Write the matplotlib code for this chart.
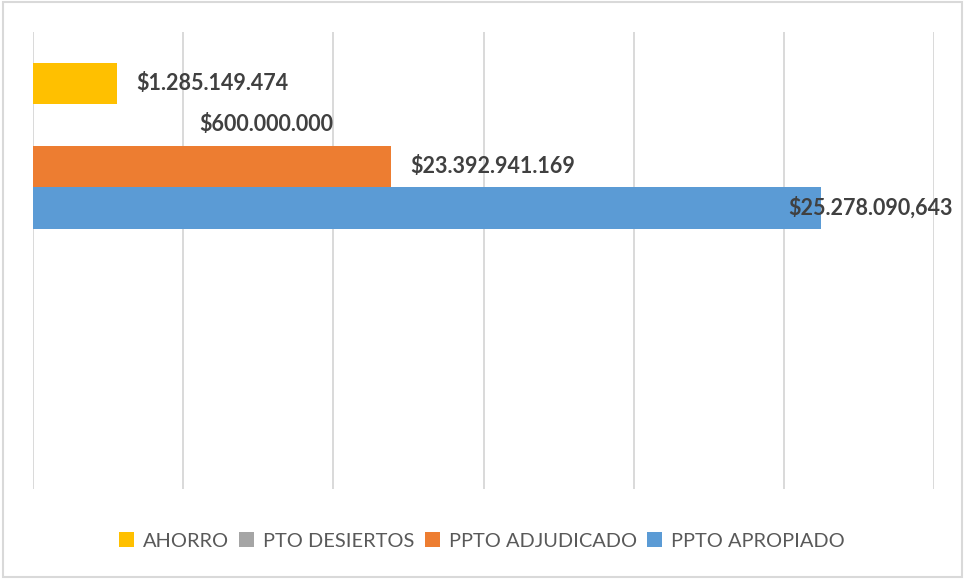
import matplotlib.pyplot as plt
from matplotlib.patches import Rectangle, Patch

# Series (one category, Excel-style clustered horizontal bars)
series = ['AHORRO', 'PTO DESIERTOS', 'PPTO ADJUDICADO', 'PPTO APROPIADO']
colors = ['#FFC000', '#A5A5A5', '#ED7D31', '#5B9BD5']
# bar lengths as read against the (unlabelled) gridlines, 5 units per gridline
bar_len = [2.80, 0.0, 11.93, 26.23]
# data labels as printed on the chart
labels = ['$1.285.149.474', '$600.000.000', '$23.392.941.169', '$25.278.090,643']
label_x = [3.43, 5.53, 12.55, 25.15]

plt.rcParams['font.family'] = ['Lato', 'DejaVu Sans']

W, H = 964, 579
fig = plt.figure(figsize=(W / 100, H / 100), dpi=100)
ax = fig.add_axes([33 / W, 1 - 489 / H, 901 / W, 457 / H])

ypos = list(range(len(series)))
ax.barh(ypos, bar_len, height=1.0, color=colors, zorder=2)

for y, txt, x in zip(ypos, labels, label_x):
    ax.text(x, y, txt, ha='left', va='center', fontsize=15.5,
            fontweight='bold', color='#404040', zorder=3)

ax.set_xlim(0, 30)
ax.set_ylim(9.77, -1.24)
ax.set_xticks(range(0, 31, 5))
ax.grid(axis='x', color='#D9D9D9', linewidth=1.4, zorder=0)
ax.tick_params(left=False, bottom=False, labelleft=False, labelbottom=False)
for s in ax.spines.values():
    s.set_visible(False)

handles = [Patch(facecolor=c, edgecolor='none') for c in colors]
fig.legend(handles, series, loc='center', bbox_to_anchor=(0.5, 1 - 541 / H),
           ncol=4, frameon=False, fontsize=14.4, labelcolor='#595959',
           handlelength=0.75, handleheight=0.75, handletextpad=0.45,
           columnspacing=0.5)

fig.patches.append(Rectangle((3 / W, 2 / H), 959 / W, 575 / H,
                             transform=fig.transFigure, fill=False,
                             edgecolor='#D9D9D9', linewidth=1.5))

fig.savefig('out.png', dpi=100)
